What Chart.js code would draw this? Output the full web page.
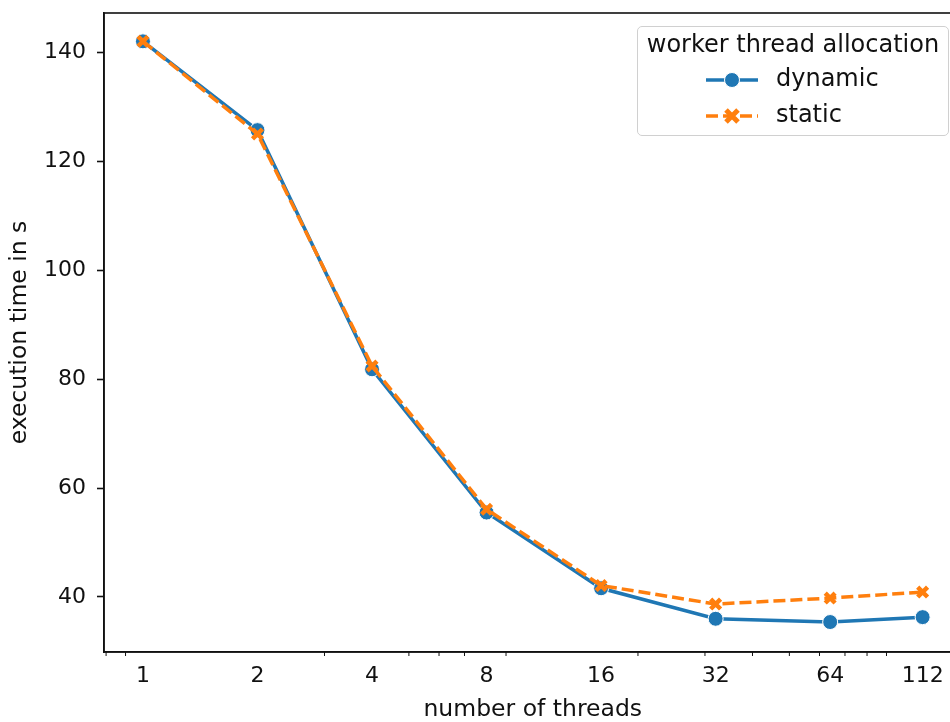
<!DOCTYPE html>
<html>
<head>
  <meta charset="utf-8">
  <title>execution time vs threads</title>
  <style>
    html, body { margin: 0; padding: 0; overflow: hidden; background: #fff; }
    .wrap { position: relative; width: 973px; height: 722px; }
    .legend {
      position: absolute; left: 637px; top: 26px; width: 310px; height: 108px;
      border: 1.5px solid #d0d0d0; border-radius: 5px; background: rgba(255,255,255,0.85);
      font-family: "DejaVu Sans", sans-serif; font-size: 24px; color: #111;
    }
    .legend .ttl { position: absolute; left: 0; right: 0; top: 3px; text-align: center; white-space: nowrap; }
    .legend .row { position: absolute; left: 68px; height: 30px; white-space: nowrap; }
    .legend .row svg { position: absolute; left: 0; top: 0; }
    .legend .row span { position: absolute; left: 70px; top: -1px; }
  </style>
</head>
<body>
  <div class="wrap">
    <canvas id="chart" width="973" height="722"></canvas>
    <div class="legend">
      <div class="ttl">worker thread allocation</div>
      <div class="row" style="top:38px">
        <svg width="60" height="30"><line x1="0" y1="15" x2="52" y2="15" stroke="#1f77b4" stroke-width="3.5"/><circle cx="26" cy="15" r="7.5" fill="#1f77b4" stroke="#fff" stroke-width="1"/></svg>
        <span>dynamic</span>
      </div>
      <div class="row" style="top:74px">
        <svg width="60" height="30"><line x1="0" y1="15" x2="52" y2="15" stroke="#ff7f0e" stroke-width="3.5" stroke-dasharray="12 5"/><path d="M20 9 L32 21 M32 9 L20 21" stroke="#ff7f0e" stroke-width="5"/></svg>
        <span>static</span>
      </div>
    </div>
  </div>

  <script src="https://cdn.jsdelivr.net/npm/chart.js"></script>
  <script>
    const threads = [1, 2, 4, 8, 16, 32, 64, 112];
    const dynamicTimes = [142.0, 125.7, 81.8, 55.5, 41.6, 36.0, 35.4, 36.3];
    const staticTimes = [142.0, 125.0, 82.4, 56.1, 42.1, 38.7, 39.8, 40.9];
    const xTicks = [1, 2, 4, 8, 16, 32, 64, 112];
    const xMinorTicks = [0.8, 0.9, 3, 5, 6, 7, 9, 20, 30, 40, 50, 60, 70, 80, 90];
    const yTicks = [40, 60, 80, 100, 120, 140];

    const font = { family: 'DejaVu Sans', size: 22 };
    const titleFont = { family: 'DejaVu Sans', size: 23.5, lineHeight: 1 };
    const ink = '#111';

    // top/right spines and minor ticks on the log axis
    const framePlugin = {
      id: 'frame',
      afterDraw(chart) {
        const { ctx, chartArea: a, scales } = chart;
        ctx.save();
        ctx.strokeStyle = ink;
        ctx.lineWidth = 1.6;
        ctx.strokeRect(a.left, a.top, a.right - a.left, a.bottom - a.top);
        ctx.lineWidth = 1;
        ctx.beginPath();
        xMinorTicks.forEach(v => {
          const x = scales.x.getPixelForValue(v);
          ctx.moveTo(x, a.bottom);
          ctx.lineTo(x, a.bottom + 4);
        });
        ctx.stroke();
        ctx.restore();
      }
    };

    new Chart(document.getElementById('chart'), {
      type: 'line',
      data: {
        datasets: [{
          label: 'dynamic',
          data: threads.map((t, i) => ({ x: t, y: dynamicTimes[i] })),
          borderColor: '#1f77b4',
          backgroundColor: '#1f77b4',
          borderWidth: 3.5,
          pointStyle: 'circle',
          pointRadius: 7.5,
          pointBorderColor: '#fff',
          pointBorderWidth: 1,
          tension: 0,
          order: 1
        }, {
          label: 'static',
          data: threads.map((t, i) => ({ x: t, y: staticTimes[i] })),
          borderColor: '#ff7f0e',
          backgroundColor: '#ff7f0e',
          borderWidth: 3.5,
          borderDash: [12, 5],
          pointStyle: 'crossRot',
          pointRadius: 7,
          pointBorderColor: '#ff7f0e',
          pointBorderWidth: 4.5,
          tension: 0,
          order: 0
        }]
      },
      options: {
        responsive: false,
        animation: false,
        layout: { padding: { top: 13, right: 1, left: 0, bottom: 0 } },
        plugins: { legend: { display: false }, tooltip: { enabled: false } },
        scales: {
          x: {
            type: 'logarithmic',
            bounds: 'data',
            min: 0.79,
            max: 141.7,
            afterBuildTicks: s => { s.ticks = xTicks.map(v => ({ value: v })); },
            afterFit: s => { s.height = 70; s.paddingLeft = 0; s.paddingRight = 0; },
            grid: { display: false, drawOnChartArea: false, drawTicks: true, tickLength: 7, tickWidth: 1.6, tickColor: ink },
            border: { display: true, color: ink, width: 1.6 },
            ticks: { autoSkip: false, maxRotation: 0, padding: 4, color: ink, font, callback: v => String(v) },
            title: { display: true, text: 'number of threads', color: ink, font: titleFont, padding: { top: 0, bottom: 0 } }
          },
          y: {
            min: 29.9,
            max: 147.2,
            afterBuildTicks: s => { s.ticks = yTicks.map(v => ({ value: v })); },
            afterFit: s => { s.width = 104; s.paddingTop = 0; s.paddingBottom = 0; },
            grid: { display: true, drawOnChartArea: false, drawTicks: true, tickLength: 7, tickWidth: 1.6, tickColor: ink },
            border: { display: true, color: ink, width: 1.6 },
            ticks: { padding: 11, color: ink, font },
            title: { display: true, text: 'execution time in s', color: ink, font: titleFont, padding: { top: 8, bottom: 0 } }
          }
        }
      },
      plugins: [framePlugin]
    });
  </script>
</body>
</html>
